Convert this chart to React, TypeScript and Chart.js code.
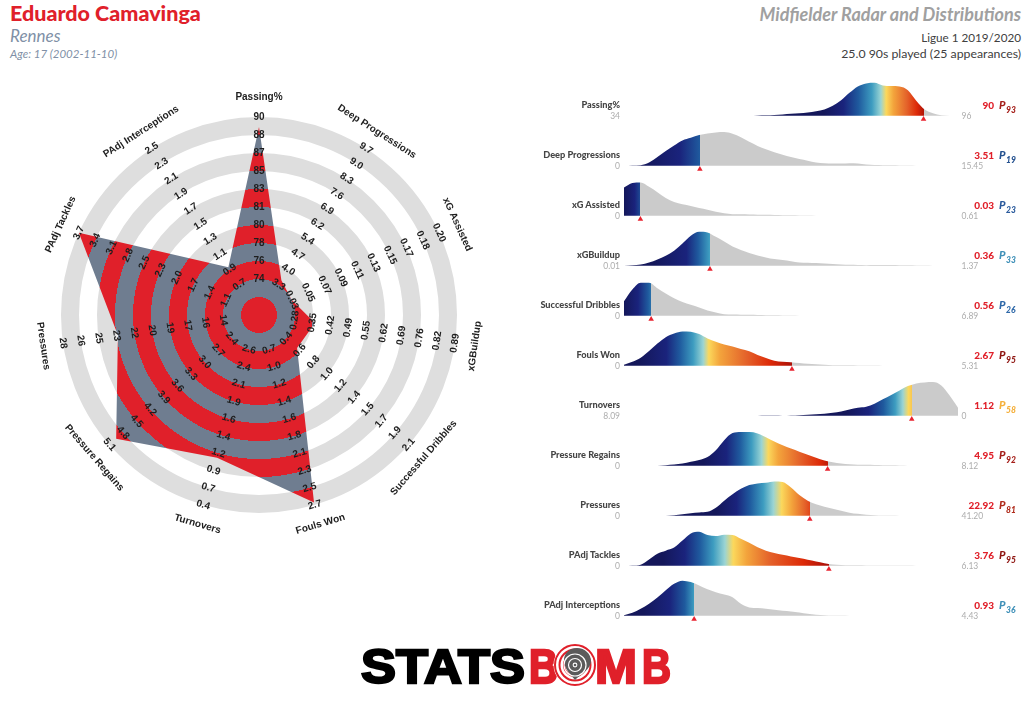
import React, { useEffect, useRef } from "react";
import { Chart, registerables } from "chart.js";

Chart.register(...registerables);

// ---------- Radar data ----------
const radarLabels = ["Passing%", "Deep Progressions", "xG Assisted", "xGBuildup", "Successful Dribbles", "Fouls Won", "Turnovers", "Pressure Regains", "Pressures", "PAdj Tackles", "PAdj Interceptions"];
const radarValues = [88.9, 3.51, 0.03, 0.36, 0.56, 2.67, 1.12, 4.95, 22.92, 3.7, 0.93];
const ticksPassing = ["74", "76", "78", "80", "81", "83", "85", "87", "88", "90"];
const ticksDeep = ["3.3", "4.0", "4.7", "5.4", "6.2", "6.9", "7.6", "8.3", "9.0", "9.7"];
const ticksXga = ["0.03", "0.05", "0.07", "0.09", "0.11", "0.13", "0.15", "0.17", "0.18", "0.20"];
const ticksXgb = ["0.28", "0.35", "0.42", "0.49", "0.55", "0.62", "0.69", "0.76", "0.82", "0.89"];
const ticksDribbles = ["0.4", "0.6", "0.8", "1.0", "1.2", "1.4", "1.5", "1.7", "1.9", "2.1"];
const ticksFouls = ["0.7", "1.0", "1.2", "1.4", "1.6", "1.8", "2.1", "2.3", "2.5", "2.7"];
const ticksTurnovers = ["2.6", "2.4", "2.1", "1.9", "1.6", "1.4", "1.2", "0.9", "0.7", "0.4"];
const ticksRegains = ["2.4", "2.7", "3.0", "3.3", "3.6", "3.9", "4.2", "4.5", "4.8", "5.1"];
const ticksPressures = ["14", "16", "17", "19", "20", "22", "23", "25", "26", "28"];
const ticksTackles = ["1.1", "1.4", "1.7", "2.0", "2.3", "2.5", "2.8", "3.1", "3.4", "3.7"];
const ticksInterceptions = ["0.7", "0.9", "1.1", "1.3", "1.5", "1.7", "1.9", "2.1", "2.3", "2.5"];
const radarTicks = [ticksPassing, ticksDeep, ticksXga, ticksXgb, ticksDribbles, ticksFouls, ticksTurnovers, ticksRegains, ticksPressures, ticksTackles, ticksInterceptions];

// ---------- Distribution data ----------
const gridPct = [0, 2.5, 5, 7.5, 10, 12.5, 15, 17.5, 20, 22.5, 25, 27.5, 30, 32.5, 35, 37.5, 40, 42.5, 45, 47.5, 50, 52.5, 55, 57.5, 60, 62.5, 65, 67.5, 70, 72.5, 75, 77.5, 80, 82.5, 85, 87.5, 90, 92.5, 95, 97.5, 100];
const densPassing = [0, 0, 0, 0, 0, 0, 0, 0, 0, 0, 0, 0, 0, 0, 0, 0, 1, 1.5, 2.5, 4, 6, 8, 10, 14, 19, 30, 46, 68, 87, 96, 98, 90, 88, 87, 76, 45, 19, 8, 2, 0.5, 0];
const densDeep = [0, 1, 2, 10, 26, 44, 60, 75, 83, 91, 96, 99, 100, 95, 85, 71, 59, 49, 40, 33, 26, 20, 15, 10, 8, 7, 7, 8, 7, 4, 2.5, 2, 1.5, 1.2, 1, 0.5, 0, 0, 0, 0, 0];
const densXga = [84, 97, 99, 86, 70, 53, 41, 34, 29, 23, 18, 12, 8, 5, 4.5, 4, 3.5, 3, 2.5, 2, 1.5, 1, 0.7, 0.5, 0.3, 0, 0, 0, 0, 0, 0, 0, 0, 0, 0, 0, 0, 0, 0, 0, 0];
const densXgb = [0.5, 1.5, 4, 10, 19, 30, 45, 66, 89, 101, 99, 86, 72, 57, 47, 38, 31, 25, 20, 17, 14, 10, 9.5, 8.5, 7, 5.5, 4, 3, 2.5, 2, 2.5, 2.8, 2.5, 2, 1.5, 1, 1, 0.6, 0.4, 0.2, 0];
const densDribbles = [43, 78, 98, 98, 82, 66, 52, 41, 33, 25, 16, 10, 5, 4, 3.5, 3, 2.5, 2, 1.5, 1, 0.7, 0.4, 0, 0, 0, 0, 0, 0, 0, 0, 0, 0, 0, 0, 0, 0, 0, 0, 0, 0, 0];
const densFouls = [3, 12, 24, 44, 66, 85, 96, 102, 101, 94, 81, 71, 63, 57, 50, 43, 32, 23, 15, 12, 11, 8.5, 6, 4.5, 3, 2, 1.8, 1.5, 1.2, 1, 0.8, 0.6, 0.5, 0.4, 0.3, 0, 0, 0, 0, 0, 0];
const densTurnovers = [0, 0, 0, 0, 0, 0, 0, 0, 0, 0, 0, 0, 0, 0, 0, 0, 0.6, 0.8, 0.8, 0.6, 1.2, 2, 3, 4.5, 6.5, 9, 13, 19, 24, 27, 36, 49, 62, 75, 88, 96, 99, 100, 90, 60, 24];
const densRegains = [0, 0, 0, 0.4, 0.5, 2, 4, 7, 12, 17, 26, 46, 76, 97, 100, 100, 96, 85, 72, 61, 51, 42, 33, 24, 16, 11, 7, 5, 3.5, 3, 2.5, 2, 1.5, 1, 0.5, 0, 0, 0, 0, 0, 0];
const densPressures = [0, 0, 0, 0, 0, 0.6, 1.5, 4.5, 8, 10, 12, 24, 45, 64, 80, 91, 96, 98, 102, 100, 84, 62, 45, 34, 27, 21, 15, 9.5, 6, 3.5, 2, 1.2, 0.8, 0.5, 0.3, 0, 0, 0, 0, 0, 0];
const densTackles = [0, 1, 3.5, 19, 36, 45, 54, 75, 96, 101, 91, 88, 92, 91, 80, 68, 55, 45, 38, 33, 28, 23, 18, 13, 8, 4, 2.5, 1.8, 1.5, 1.2, 1.1, 1, 0.9, 0.8, 0.7, 0.6, 0.5, 0.4, 0.3, 0.2, 0];
const densInterceptions = [2, 9, 21, 36, 54, 76, 95, 104, 100, 90, 79, 70, 63, 55, 36, 25, 23, 21, 18, 15, 13, 10, 6, 3.5, 2, 1.2, 0.8, 0.6, 0.5, 0.4, 0.3, 0.2, 0.2, 0.1, 0, 0, 0, 0, 0, 0, 0];

const axisStart = [34, 0, 0, 0.01, 0, 0, 8.09, 0, 0, 0, 0];
const axisEnd = [96, 15.45, 0.61, 1.37, 6.89, 5.31, 0, 8.12, 41.2, 6.13, 4.43];
const startLabels = ["34", "0", "0", "0.01", "0", "0", "8.09", "0", "0", "0", "0"];
const endLabels = ["96", "15.45", "0.61", "1.37", "6.89", "5.31", "0", "8.12", "41.20", "6.13", "4.43"];
const markerValues = [89.6, 3.51, 0.03, 0.36, 0.56, 2.67, 1.12, 4.95, 22.92, 3.76, 0.93];
const valueLabels = ["90", "3.51", "0.03", "0.36", "0.56", "2.67", "1.12", "4.95", "22.92", "3.76", "0.93"];
const percentiles = ["93", "19", "23", "33", "26", "95", "58", "92", "81", "95", "36"];
const percentileColors = ["#a51f1a", "#24518f", "#2a5a9c", "#3f90b8", "#2e68a8", "#8f1612", "#f5b03c", "#a51f1a", "#b02c1c", "#8f1612", "#3f90b8"];
const densities = [densPassing, densDeep, densXga, densXgb, densDribbles, densFouls, densTurnovers, densRegains, densPressures, densTackles, densInterceptions];

const rampColors = ["#14175a", "#1a237c", "#1f5a9e", "#3d9cc0", "#9ad4d4", "#fbd85c", "#f3a43c", "#e4622a", "#dd2a08", "#a80f08"];
const rampPassing = [59.7, 65.7, 70.2, 74.2, 76.9, 78.5, 80.7, 84.7, 87.7, 90.2];
const rampDeep = [5.7, 16.7, 22.7, 27.7, 31.7, 34.2, 36.7, 41.7, 48.7, 61.7];
const rampXga = [0, 3.2, 5.5, 8.2, 10.7, 12.2, 14.7, 19.7, 25.7, 36.7];
const rampXgb = [8.7, 18.7, 22.2, 25.5, 28.2, 30.2, 32.7, 37.7, 43.7, 56.7];
const rampDribbles = [0, 4.2, 7.2, 9.7, 11.7, 13.7, 15.7, 19.7, 24.7, 31.7];
const rampFouls = [4.7, 12.7, 16.7, 20.7, 23.7, 25.4, 28.7, 36.7, 43.7, 50.7];
const rampTurnovers = [66.7, 73.2, 77.7, 81.2, 83.5, 85.2, 88.2, 91.7, 95.7, 99.7];
const rampRegains = [23.7, 30.7, 34.7, 38.2, 41.2, 43.2, 46.2, 52.7, 58.7, 62.7];
const rampPressures = [27.7, 33.7, 37.7, 41.7, 44.7, 47.2, 50.2, 54.2, 57.2, 61.7];
const rampTackles = [11.7, 18.2, 22.7, 26.7, 30.2, 32.7, 36.7, 43.7, 53.7, 61.2];
const rampInterceptions = [5.7, 13.7, 18.2, 20.9, 23.7, 25.7, 28.7, 33.7, 40.7, 51.7];
const ramps = [rampPassing, rampDeep, rampXga, rampXgb, rampDribbles, rampFouls, rampTurnovers, rampRegains, rampPressures, rampTackles, rampInterceptions];

// ---------- Helpers ----------
const RED = "#e0202a";
const SLATE = "#6f7d90";
const GREY = "#cbcbcb";
const RING = "#dedede";
const BAND_COUNT = 11;
const FONT = "Lato, 'Noto Sans', sans-serif";

// Position of a value along the band units of its own axis (first tick sits at 2 bands).
function toBand(value: number, ticks: string[]) {
  const t = ticks.map(Number);
  for (let i = 0; i < t.length - 1; i++) {
    const lo = Math.min(t[i], t[i + 1]);
    const hi = Math.max(t[i], t[i + 1]);
    if (value >= lo && value <= hi) return 2 + i + (value - t[i]) / (t[i + 1] - t[i]);
  }
  return 2;
}

const hex = (c: string) => [1, 3, 5].map((i) => parseInt(c.slice(i, i + 2), 16));
function mix(a: string, b: string, f: number) {
  const A = hex(a), B = hex(b);
  return `rgb(${A.map((v, i) => Math.round(v + (B[i] - v) * f)).join(",")})`;
}
function rampAt(pct: number, ramp: number[]) {
  if (pct <= ramp[0]) return rampColors[0];
  for (let i = 0; i < ramp.length - 1; i++) {
    if (pct <= ramp[i + 1]) return mix(rampColors[i], rampColors[i + 1], (pct - ramp[i]) / (ramp[i + 1] - ramp[i]));
  }
  return rampColors[rampColors.length - 1];
}

const radarTextPlugin = {
  id: "radarText",
  afterDatasetsDraw(chart: any) {
    const s = chart.scales.r;
    const ctx = chart.ctx;
    ctx.save();
    ctx.textAlign = "center";
    ctx.textBaseline = "middle";
    ctx.fillStyle = "#1e1e1e";
    ctx.font = "bold 10px 'Liberation Sans', Arial, sans-serif";
    const put = (text: string, index: number, band: number) => {
      const p = s.getPointPositionForValue(index, band);
      let a = s.getIndexAngle(index);
      if (a > Math.PI / 2 && a < (3 * Math.PI) / 2) a -= Math.PI;
      ctx.save();
      ctx.translate(p.x, p.y);
      ctx.rotate(a);
      ctx.fillText(text, 0, 0);
      ctx.restore();
    };
    radarLabels.forEach((label, i) => {
      radarTicks[i].forEach((t, k) => put(t, i, 2 + k));
      put(label, i, 218 / 18);
    });
    ctx.restore();
  },
};

function Radar() {
  const ref = useRef<HTMLCanvasElement>(null);
  useEffect(() => {
    const chart = new Chart(ref.current!, {
      type: "radar",
      plugins: [radarTextPlugin],
      data: {
        labels: radarLabels,
        datasets: [
          {
            data: radarValues.map((v, i) => toBand(v, radarTicks[i])),
            borderWidth: 0,
            pointRadius: 0,
            fill: "origin",
            backgroundColor: (c: any) => {
              const s = c.chart.scales.r;
              if (!s || !s.drawingArea) return SLATE;
              const g = c.chart.ctx.createRadialGradient(s.xCenter, s.yCenter, 0, s.xCenter, s.yCenter, s.drawingArea);
              for (let b = 0; b < BAND_COUNT; b++) {
                const col = b % 2 === 0 ? RED : SLATE;
                g.addColorStop(b / BAND_COUNT, col);
                g.addColorStop((b + 1) / BAND_COUNT, col);
              }
              return g;
            },
          },
        ],
      },
      options: {
        animation: false,
        responsive: false,
        layout: { padding: { left: 61, right: 61, top: 47, bottom: 47 }, autoPadding: false },
        plugins: { legend: { display: false }, tooltip: { enabled: false } },
        scales: {
          r: {
            min: 0,
            max: BAND_COUNT,
            ticks: { display: false, stepSize: 0.5 },
            pointLabels: { display: false },
            angleLines: { display: false },
            grid: {
              circular: true,
              lineWidth: 18,
              color: (c: any) => {
                const v = c.tick ? c.tick.value : 0;
                const isCentre = Math.abs(v - Math.floor(v) - 0.5) < 1e-6;
                return isCentre && Math.floor(v) % 2 === 0 ? RING : "rgba(0,0,0,0)";
              },
            },
          },
        },
      } as any,
    } as any);
    return () => chart.destroy();
  }, []);
  return <canvas ref={ref} width={518} height={490} style={{ position: "absolute", left: 0, top: 70, width: 518, height: 490 }} />;
}

function Distribution({ row }: { row: number }) {
  const ref = useRef<HTMLCanvasElement>(null);
  useEffect(() => {
    const start = axisStart[row];
    const end = axisEnd[row];
    const ramp = ramps[row];
    const marker = markerValues[row];
    const points = gridPct.map((p, i) => ({ x: start + (p / 100) * (end - start), y: densities[row][i] }));
    const chart = new Chart(ref.current!, {
      type: "line",
      data: {
        datasets: [
          {
            data: points,
            borderWidth: 0,
            pointRadius: 0,
            cubicInterpolationMode: "monotone",
            fill: "origin",
            clip: false,
            backgroundColor: (c: any) => {
              const area = c.chart.chartArea;
              const sx = c.chart.scales.x;
              if (!area || !sx) return GREY;
              const g = c.chart.ctx.createLinearGradient(area.left, 0, area.right, 0);
              const mp = (sx.getPixelForValue(marker) - area.left) / (area.right - area.left);
              const mPct = mp * 100;
              ramp.forEach((r, i) => {
                if (r < mPct) g.addColorStop(r / 100, rampColors[i]);
              });
              g.addColorStop(mp, rampAt(mPct, ramp));
              g.addColorStop(mp, GREY);
              g.addColorStop(1, GREY);
              return g;
            },
          },
          {
            data: [{ x: marker, y: -10 }],
            showLine: false,
            pointStyle: "triangle",
            pointRadius: 3.2,
            borderWidth: 0,
            backgroundColor: "#e8222e",
            fill: false,
            clip: false,
          },
        ],
      },
      options: {
        animation: false,
        responsive: false,
        layout: { padding: { left: 4, right: 4, top: 0, bottom: 0 }, autoPadding: false },
        plugins: { legend: { display: false }, tooltip: { enabled: false } },
        scales: {
          x: { type: "linear", display: false, min: Math.min(start, end), max: Math.max(start, end), reverse: start > end },
          y: { display: false, min: -30, max: 112 },
        },
      } as any,
    } as any);
    return () => chart.destroy();
  }, [row]);
  const base = 116 + row * 50;
  return <canvas ref={ref} width={342} height={48} style={{ position: "absolute", left: 620, top: base - 38, width: 342, height: 48 }} />;
}

function T({ x, y, align = "left", style, children }: any) {
  return (
    <div
      style={{
        position: "absolute",
        left: x,
        top: y,
        transform: `translate(${align === "right" ? "-100%" : "0"}, -50%)`,
        whiteSpace: "nowrap",
        fontFamily: FONT,
        lineHeight: 1.2,
        ...style,
      }}
    >
      {children}
    </div>
  );
}

function Logo() {
  const fs = { fontFamily: "'Liberation Sans', Arial, sans-serif", fontWeight: 700, fontSize: 49, strokeWidth: 2.4 } as any;
  return (
    <svg width={1024} height={708} style={{ position: "absolute", left: 0, top: 0, pointerEvents: "none" }}>
      <text x={361} y={682.5} textLength={164} lengthAdjust="spacingAndGlyphs" fill="#000" stroke="#000" style={fs}>STATS</text>
      <text x={529} y={682.5} textLength={29} lengthAdjust="spacingAndGlyphs" fill={RED} stroke={RED} style={fs}>B</text>
      <text x={595} y={682.5} textLength={42} lengthAdjust="spacingAndGlyphs" fill={RED} stroke={RED} style={fs}>M</text>
      <text x={642} y={682.5} textLength={29} lengthAdjust="spacingAndGlyphs" fill={RED} stroke={RED} style={fs}>B</text>
      <circle cx={575} cy={665} r={21.5} fill="#fff" />
      <circle cx={575} cy={665} r={20} fill="none" stroke={RED} strokeWidth={2} />
      <circle cx={575} cy={665} r={15.5} fill="none" stroke={RED} strokeWidth={2} />
      <circle cx={575} cy={665} r={11} fill="none" stroke={RED} strokeWidth={2} />
      <path d="M575 680 C571 675 564 669 564 660 C564 654 569 648 577 648 C585 648 591 654 591 661 C591 669 580 675 575 680 Z" fill="#5b5b5b" />
      <circle cx={575} cy={665} r={11} fill="none" stroke="#fff" strokeWidth={1.2} />
      <circle cx={575} cy={665} r={6.5} fill="none" stroke="#fff" strokeWidth={1.2} />
      <circle cx={575} cy={665} r={2.4} fill="#fff" />
      <circle cx={575} cy={665} r={1.3} fill="#5b5b5b" />
    </svg>
  );
}

export default function App() {
  return (
    <div style={{ position: "fixed", left: 0, top: 0, width: 1024, height: 708, background: "#fff", overflow: "hidden" }}>
      <T x={10} y={14} style={{ fontSize: 21.5, fontWeight: 900, color: RED }}>Eduardo Camavinga</T>
      <T x={10} y={35.5} style={{ fontSize: 17, fontStyle: "italic", color: "#8090a6" }}>Rennes</T>
      <T x={10} y={54} style={{ fontSize: 11.5, fontStyle: "italic", color: "#8090a6" }}>Age: 17 (2002-11-10)</T>
      <T x={1021} y={15} align="right" style={{ fontSize: 18, fontWeight: 700, fontStyle: "italic", color: "#a0a0a0" }}>Midfielder Radar and Distributions</T>
      <T x={1021} y={37} align="right" style={{ fontSize: 11.7, color: "#404040" }}>Ligue 1 2019/2020</T>
      <T x={1021} y={54} align="right" style={{ fontSize: 12.3, color: "#404040" }}>25.0 90s played (25 appearances)</T>

      <Radar />

      {radarLabels.map((label, i) => {
        const base = 116 + i * 50;
        return (
          <React.Fragment key={label}>
            <Distribution row={i} />
            <T x={620} y={base - 11} align="right" style={{ fontSize: 9.2, fontWeight: 900, color: "#454545" }}>{label}</T>
            <T x={620} y={base} align="right" style={{ fontSize: 8.5, color: "#adadad" }}>{startLabels[i]}</T>
            <T x={961.5} y={base} style={{ fontSize: 8.5, color: "#adadad" }}>{endLabels[i]}</T>
            <T x={994} y={base - 11} align="right" style={{ fontSize: 10, fontWeight: 900, color: RED }}>{valueLabels[i]}</T>
            <T x={999} y={base - 11} style={{ fontSize: 11, fontWeight: 900, fontStyle: "italic", color: percentileColors[i] }}>P</T>
            <T x={1006} y={base - 6.5} style={{ fontSize: 8.5, fontWeight: 900, fontStyle: "italic", color: percentileColors[i] }}>{percentiles[i]}</T>
          </React.Fragment>
        );
      })}

      <Logo />
    </div>
  );
}
